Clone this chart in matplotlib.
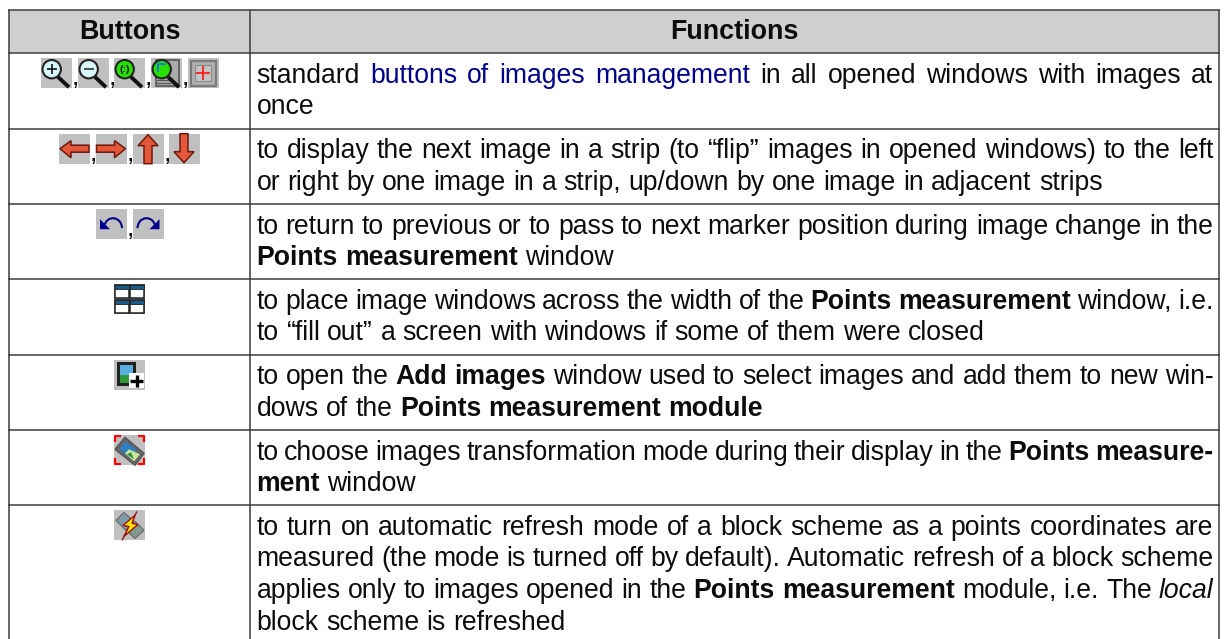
import re
import matplotlib
matplotlib.use("Agg")
import matplotlib.pyplot as plt
from matplotlib.patches import Rectangle, Circle, Polygon, Arc

W, H = 1228, 639
plt.rcParams['font.family'] = ['Liberation Sans', 'DejaVu Sans']
plt.rcParams['text.hinting'] = 'default'
plt.rcParams['text.hinting_factor'] = 8

headers = ["Buttons", "Functions"]
row_icons = [
    ["zoom_in", "zoom_out", "zoom_11", "zoom_fit", "cross"],
    ["left", "right", "up", "down"],
    ["undo", "redo"],
    ["grid"],
    ["add"],
    ["transform"],
    ["bolt"],
]
row_text = [
    ["standard [[buttons of images management]] in all opened windows with images at|", "once"],
    ["to display the next image in a strip (to “flip” images in opened windows) to the left|",
     "or right by one image in a strip, up/down by one image in adjacent strips"],
    ["to return to previous or to pass to next marker position during image change in the|",
     "**Points measurement** window"],
    ["to place image windows across the width of the **Points measurement** window, i.e.|",
     "to “fill out” a screen with windows if some of them were closed"],
    ["to open the **Add images** window used to select images and add them to new win-|",
     "dows of the **Points measurement module**"],
    ["to choose images transformation mode during their display in the **Points measure-**|",
     "**ment** window"],
    ["to turn on automatic refresh mode of a block scheme as a points coordinates are|",
     "measured (the mode is turned off by default). Automatic refresh of a block scheme|",
     "applies only to images opened in the **Points measurement** module, i.e. The //local//|",
     "block scheme is refreshed"],
]

LINE = "#3c3c3c"
HEAD = "#cfcfcf"
ICON_BG = "#c0c0c0"
LINK = "#00008b"
INK = "#0c0c0c"
FS = 19.2
FS_HEAD = 19.4
x_l, x_m, x_r = 8.8, 250.4, 1218.8
y_top, y_head = 10.3, 53.2
row_bot = [128.7, 204.2, 279.4, 354.7, 430.3, 505.4, 639.5]
text_l, text_r = 256.5, 1213.5
line_gap = 31.6
icon_x = [
    [41, 78, 114, 151, 188],
    [59, 96, 133, 169],
    [96, 133],
    [114],
    [114],
    [114],
    [114],
]

fig = plt.figure(figsize=(W / 100, H / 100), dpi=100, facecolor="white")
ax = fig.add_axes([0, 0, 1, 1])
ax.set_xlim(0, W)
ax.set_ylim(H, 0)
ax.axis("off")
rend = fig.canvas.get_renderer()


def P(xy, c, ec="none", lw=0, z=3):
    ax.add_patch(Polygon(xy, closed=True, fc=c, ec=ec, lw=lw, zorder=z))


def L(xs, ys, c, lw, z=4, cap="butt"):
    ax.plot(xs, ys, color=c, lw=lw, zorder=z, solid_capstyle=cap)


def magnifier(x, y, fill):
    L([x + 13, x + 28], [y + 15, y + 29], "#111111", 2.8, z=4)
    ax.add_patch(Circle((x + 10.7, y + 11), 9.2, fc=fill, ec="#222222", lw=1.5, zorder=5))


def icon(kind, x, y):
    bg = ICON_BG
    if kind == "grid":
        bg = "#8a8a8a"
    ax.add_patch(Rectangle((x, y), 30.5, 30, fc=bg, ec="none", zorder=2))
    if kind == "zoom_in":
        magnifier(x, y, "#d8f7fa")
        L([x + 6, x + 15.5], [y + 11, y + 11], "#111111", 1.2, z=6)
        L([x + 10.7, x + 10.7], [y + 6.2, y + 15.8], "#111111", 1.2, z=6)
    elif kind == "zoom_out":
        magnifier(x, y, "#d8f7fa")
        L([x + 6, x + 15.5], [y + 11, y + 11], "#333333", 1.2, z=6)
    elif kind == "zoom_11":
        magnifier(x, y, "#27e000")
        ax.text(x + 10.7, y + 11, "(:)", fontsize=7.5, fontweight="bold", color="#111111",
                ha="center", va="center", zorder=6)
    elif kind == "zoom_fit":
        ax.add_patch(Rectangle((x + 5, y + 2), 23, 26, fc="#aaaaaa", ec="#555555", lw=1.2, zorder=3))
        for dy in (19, 22, 25):
            L([x + 5, x + 20], [y + dy, y + dy], "#555555", 0.8, z=3)
        magnifier(x, y, "#27e000")
        L([x + 7, x + 7, x + 15], [y + 14, y + 6, y + 6], "#1e78e0", 1.4, z=6)
    elif kind == "cross":
        ax.add_patch(Rectangle((x + 2.5, y + 2.5), 25, 25, fc="#b0b0b0", ec="#7a7a7a", lw=1.6, zorder=3))
        ax.add_patch(Rectangle((x + 7, y + 7), 16, 16, fc="#c4c4c4", ec="#8a8a8a", lw=0.8, zorder=3))
        L([x + 8, x + 22], [y + 15, y + 15], "#ff1e1e", 1.3, z=5)
        L([x + 15, x + 15], [y + 8, y + 22], "#ff1e1e", 1.3, z=5)
    elif kind in ("left", "right"):
        s = [(1, 15), (12, 7), (12, 11.5), (30, 11.5), (30, 18.5), (12, 18.5), (12, 24)]
        if kind == "right":
            s = [(30.5 - a, b) for a, b in s]
        P([(x + a, y + b) for a, b in s], "#e4573a", ec="#6e1a0a", lw=1.1)
    elif kind in ("up", "down"):
        s = [(15, 1), (25, 12), (19, 12), (19, 30), (11, 30), (11, 12), (5, 12)]
        if kind == "down":
            s = [(a, 30 - b) for a, b in s]
        P([(x + a, y + b) for a, b in s], "#e4573a", ec="#6e1a0a", lw=1.1)
    elif kind in ("undo", "redo"):
        flip = (lambda a: a) if kind == "undo" else (lambda a: 30.5 - a)
        th = (190, 360) if kind == "undo" else (180, 350)
        cx = 17 if kind == "undo" else 13.5
        ax.add_patch(Arc((x + cx, y + 19), 18, 20, theta1=th[0], theta2=th[1],
                         color="#00008b", lw=1.5, zorder=4))
        P([(x + flip(a), y + b) for a, b in [(4, 20), (4, 10), (14, 20)]], "#00008b")
    elif kind == "grid":
        for dx in (1, 16):
            for dy in (1, 16):
                ax.add_patch(Rectangle((x + dx, y + dy), 13.5, 12.5, fc="white", ec="#222222", lw=1.1, zorder=3))
                ax.add_patch(Rectangle((x + dx, y + dy), 13.5, 4, fc="#1a5a8a", ec="#222222", lw=0.6, zorder=4))
    elif kind == "add":
        ax.add_patch(Rectangle((x + 3, y + 2), 19, 24, fc="#222222", ec="none", zorder=3))
        ax.add_patch(Rectangle((x + 6, y + 5), 13, 10, fc="#5aaee0", ec="none", zorder=4))
        ax.add_patch(Rectangle((x + 6, y + 15), 13, 8, fc="#2f9a3a", ec="none", zorder=4))
        ax.add_patch(Rectangle((x + 15, y + 13), 15, 15.5, fc="white", ec="none", zorder=5))
        L([x + 16, x + 29], [y + 21, y + 21], "#000000", 2.4, z=6)
        L([x + 22.5, x + 22.5], [y + 15, y + 27], "#000000", 2.4, z=6)
    elif kind == "transform":
        P([(x + 1, y + 14), (x + 11, y + 2), (x + 30, y + 18), (x + 21, y + 30)], "#666666", ec="#555555", lw=1)
        P([(x + 5, y + 14), (x + 12, y + 6), (x + 23, y + 15), (x + 16, y + 22)], "#2f7fc0", z=4)
        P([(x + 11, y + 18), (x + 15, y + 14), (x + 26, y + 19), (x + 20, y + 26)], "#c8e8a0", z=4)
        P([(x + 13, y + 19), (x + 17, y + 17), (x + 20, y + 24)], "#2f8a3a", z=5)
        for cx, cy, sx, sy in [(1, 1, 1, 1), (29.5, 1, -1, 1), (1, 29, 1, -1), (29.5, 29, -1, -1)]:
            L([x + cx, x + cx, x + cx + sx * 6], [y + cy + sy * 6, y + cy, y + cy], "#ff0000", 1.6, z=6)
    elif kind == "bolt":
        P([(x + 2, y + 10), (x + 10, y + 2), (x + 20, y + 11), (x + 12, y + 20)], "#7f9aa8", ec="#666666", lw=0.8)
        P([(x + 12, y + 20), (x + 21, y + 11), (x + 30, y + 20), (x + 21, y + 28)], "#7f9a8c", ec="#666666", lw=0.8)
        L([x + 23, x + 8], [y + 1, y + 30], "#a01010", 1.0, z=4)
        P([(x + 21, y + 5), (x + 9, y + 15), (x + 15, y + 16), (x + 10, y + 26),
           (x + 24, y + 14), (x + 18, y + 13)], "#ffe800", ec="#a01010", lw=1.0, z=5)


def parse(line):
    """Split a marked-up line into (word, bold, italic, link) tuples."""
    runs = []
    for chunk in re.split(r"(\*\*.+?\*\*|//.+?//|\[\[.+?\]\])", line):
        if not chunk:
            continue
        b = chunk.startswith("**")
        i = chunk.startswith("//")
        k = chunk.startswith("[[")
        body = chunk[2:-2] if (b or i or k) else chunk
        for w in body.split():
            runs.append((w, b, i, k))
    return runs


def draw_line(line, y):
    justify = line.endswith("|")
    words = parse(line.rstrip("|"))
    arts = []
    total = 0
    for w, b, i, k in words:
        t = ax.text(0, y, w, fontsize=FS, fontweight="bold" if b else "normal",
                    fontstyle="italic" if i else "normal", color=LINK if k else INK,
                    ha="left", va="baseline", zorder=6)
        wid = t.get_window_extent(rend).width
        arts.append((t, wid))
        total += wid
    space = 7.4
    if justify and len(words) > 1:
        space = (text_r - text_l - total) / (len(words) - 1)
    cx = text_l
    for t, wid in arts:
        t.set_x(cx)
        cx += wid + space


# header
ax.add_patch(Rectangle((x_l, y_top), x_r - x_l, y_head - y_top, fc=HEAD, ec="none", zorder=1))
for txt, a, b in zip(headers, (x_l, x_m), (x_m, x_r)):
    ax.text((a + b) / 2, 38.9, txt, fontsize=FS_HEAD, fontweight="bold", color=INK,
            ha="center", va="baseline", zorder=6)

# grid
for yy in [y_top, y_head] + row_bot[:-1]:
    L([x_l - 0.8, x_r + 0.8], [yy, yy], LINE, 1.1, z=7)
for xx in (x_l, x_m, x_r):
    L([xx, xx], [y_top, H], LINE, 1.1, z=7)

# rows
tops = [y_head] + row_bot[:-1]
for top, icons, xs, lines in zip(tops, row_icons, icon_x, row_text):
    iy = top + 5
    for n, (kind, ix) in enumerate(zip(icons, xs)):
        icon(kind, ix, iy)
        if n < len(icons) - 1:
            ax.text(ix + 31, iy + 27, ",", fontsize=FS, color=INK, ha="left",
                    va="baseline", zorder=6)
    for n, line in enumerate(lines):
        draw_line(line, top + 29.5 + n * line_gap)

fig.savefig("out.png", dpi=100, facecolor="white")
